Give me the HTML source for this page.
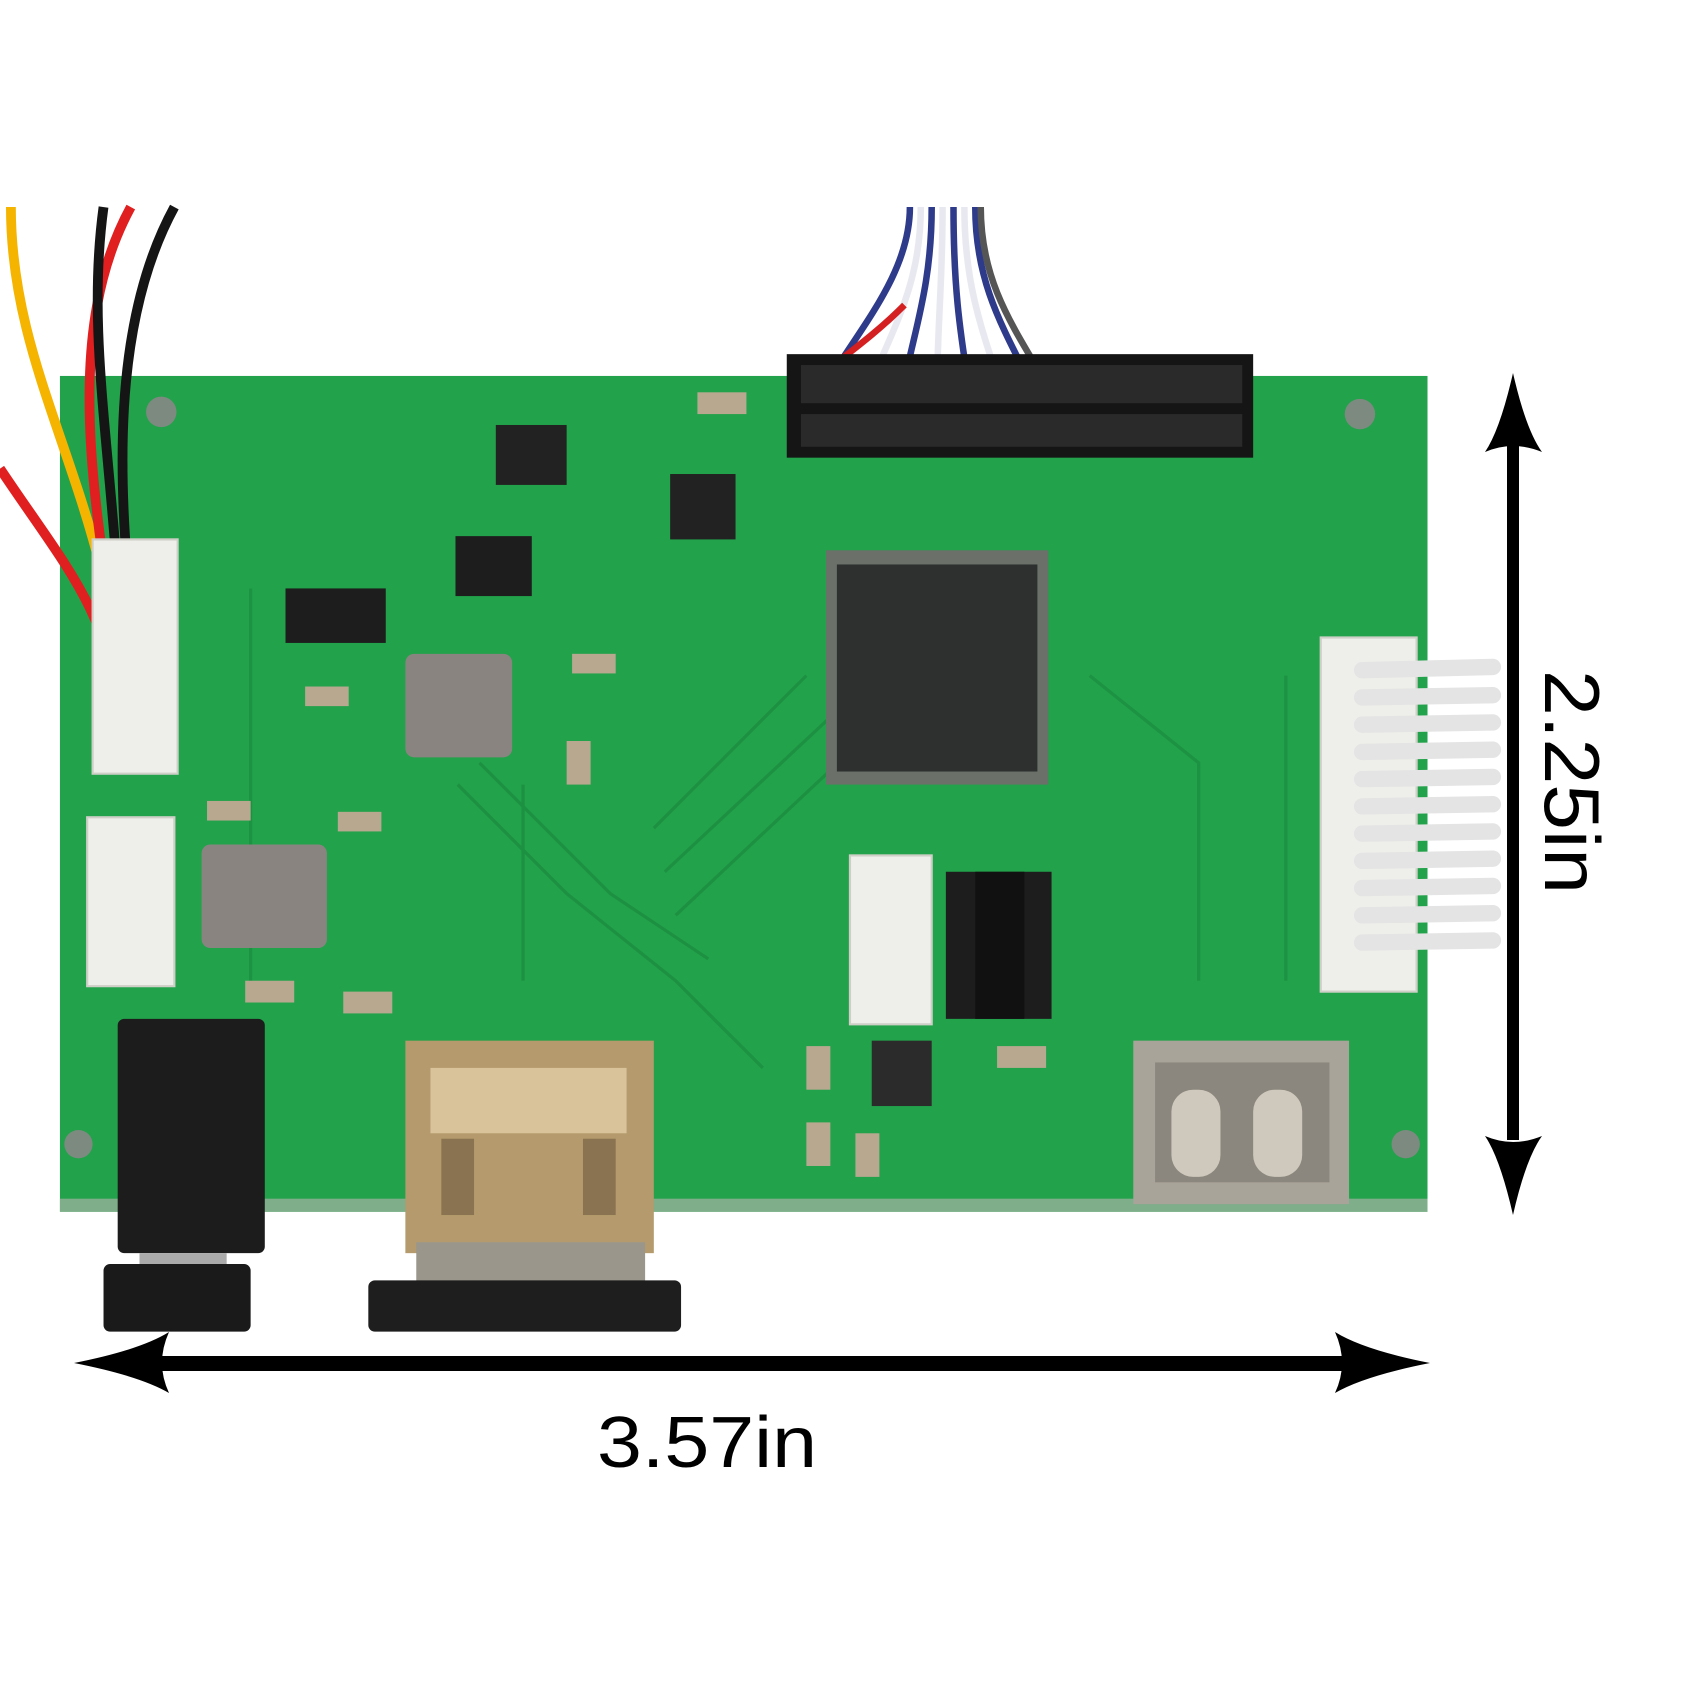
<!DOCTYPE html>
<html><head><meta charset="utf-8"><style>html,body{margin:0;padding:0;background:#fff}svg{display:block}</style></head>
<body>
<svg width="1700" height="1700" viewBox="0 0 1700 1700" xmlns="http://www.w3.org/2000/svg">
<rect width="1700" height="1700" fill="#fff"/>
<g transform="scale(1.0897)">
  <rect x="55" y="345" width="1255" height="767" fill="#22a24a"/>
  <rect x="55" y="1100" width="1255" height="12" fill="#7fae8a"/>
  <g stroke="#1c8e40" stroke-width="3" fill="none" opacity="0.8">
    <path d="M420 720 L520 820 L620 900 L700 980"/><path d="M440 700 L560 820 L650 880"/>
    <path d="M600 760 L740 620"/><path d="M610 800 L760 660"/><path d="M620 840 L780 690"/>
    <path d="M1000 620 L1100 700 L1100 900"/><path d="M1180 620 L1180 900"/>
    <path d="M230 540 L230 900"/><path d="M480 720 L480 900"/>
  </g>
  <circle cx="148" cy="378" r="14" fill="#7c8a80"/><circle cx="1248" cy="380" r="14" fill="#7c8a80"/>
  <circle cx="72" cy="1050" r="13" fill="#7c8a80"/><circle cx="1290" cy="1050" r="13" fill="#7c8a80"/>
  <g stroke-width="6" fill="none">
    <path d="M835 190 C835 250 790 300 760 350" stroke="#2e3a8a"/>
    <path d="M845 190 C845 260 820 300 800 350" stroke="#e8e8f0"/>
    <path d="M855 190 C855 260 840 300 830 350" stroke="#2e3a8a"/>
    <path d="M865 190 C865 260 860 300 860 360" stroke="#e8e8f0"/>
    <path d="M875 190 C875 260 880 300 890 360" stroke="#2e3a8a"/>
    <path d="M885 190 C885 260 900 300 920 360" stroke="#e8e8f0"/>
    <path d="M895 190 C895 260 920 300 950 360" stroke="#2e3a8a"/>
    <path d="M900 190 C900 260 930 300 965 360" stroke="#555"/>
    <path d="M830 280 C800 310 770 330 740 355" stroke="#d42020"/>
  </g>
  <rect x="722" y="325" width="428" height="95" fill="#151515"/>
  <g fill="#2a2a2a"><rect x="735" y="335" width="405" height="35"/><rect x="735" y="380" width="405" height="30"/></g>
  <g fill="none" stroke-width="9">
    <path d="M10 190 C10 350 100 450 115 660" stroke="#f5b400"/>
    <path d="M120 190 C60 300 80 450 120 660" stroke="#e02020"/>
    <path d="M0 430 C60 520 100 560 110 660" stroke="#e02020"/>
    <path d="M160 190 C100 300 110 450 120 560" stroke="#151515"/>
    <path d="M95 190 C80 300 100 400 110 560" stroke="#151515"/>
  </g>
  <rect x="85" y="495" width="78" height="215" fill="#eeeeea" stroke="#cfcfc8" stroke-width="2"/>
  <rect x="80" y="750" width="80" height="155" fill="#eeeeea" stroke="#cfcfc8" stroke-width="2"/>
  <rect x="780" y="785" width="75" height="155" fill="#eeeeea" stroke="#cfcfc8" stroke-width="2"/>
  <rect x="1212" y="585" width="88" height="325" fill="#eeeeea" stroke="#cfcfc8" stroke-width="2"/>
  <g stroke="#e4e4e4" stroke-width="15" stroke-linecap="round">
    <line x1="1250" y1="615" x2="1370" y2="612"/><line x1="1250" y1="640" x2="1370" y2="638"/>
    <line x1="1250" y1="665" x2="1370" y2="663"/><line x1="1250" y1="690" x2="1370" y2="688"/>
    <line x1="1250" y1="715" x2="1370" y2="713"/><line x1="1250" y1="740" x2="1370" y2="738"/>
    <line x1="1250" y1="765" x2="1370" y2="763"/><line x1="1250" y1="790" x2="1370" y2="788"/>
    <line x1="1250" y1="815" x2="1370" y2="813"/><line x1="1250" y1="840" x2="1370" y2="838"/>
    <line x1="1250" y1="865" x2="1370" y2="863"/>
  </g>
  <rect x="758" y="505" width="204" height="215" fill="#6b7069"/>
  <rect x="768" y="518" width="184" height="190" fill="#2d302f"/>
  <rect x="868" y="800" width="97" height="135" fill="#1d1d1d"/>
  <rect x="895" y="800" width="45" height="135" fill="#111"/>
  <rect x="418" y="492" width="70" height="55" fill="#1d1d1d"/>
  <rect x="615" y="435" width="60" height="60" fill="#222"/>
  <rect x="262" y="540" width="92" height="50" fill="#1d1d1d"/>
  <rect x="455" y="390" width="65" height="55" fill="#222"/>
  <rect x="800" y="955" width="55" height="60" fill="#2b2b2b"/>
  <rect x="372" y="600" width="98" height="95" rx="8" fill="#8a8480"/>
  <rect x="185" y="775" width="115" height="95" rx="8" fill="#8a8480"/>
  <g fill="#b8a890">
    <rect x="280" y="630" width="40" height="18"/><rect x="190" y="735" width="40" height="18"/>
    <rect x="310" y="745" width="40" height="18"/><rect x="225" y="900" width="45" height="20"/>
    <rect x="315" y="910" width="45" height="20"/><rect x="525" y="600" width="40" height="18"/>
    <rect x="640" y="360" width="45" height="20"/><rect x="915" y="960" width="45" height="20"/>
    <rect x="740" y="960" width="22" height="40"/><rect x="740" y="1030" width="22" height="40"/>
    <rect x="785" y="1040" width="22" height="40"/><rect x="520" y="680" width="22" height="40"/>
  </g>
  <rect x="108" y="935" width="135" height="215" rx="6" fill="#1c1c1c"/>
  <rect x="128" y="1150" width="80" height="18" fill="#aaa"/>
  <rect x="95" y="1160" width="135" height="62" rx="6" fill="#1a1a1a"/>
  <rect x="372" y="955" width="228" height="195" fill="#b49a6c"/>
  <rect x="395" y="980" width="180" height="60" fill="#d8c39a"/>
  <rect x="405" y="1045" width="30" height="70" fill="#8a7350"/><rect x="535" y="1045" width="30" height="70" fill="#8a7350"/>
  <rect x="382" y="1140" width="210" height="40" fill="#9a968c"/>
  <rect x="338" y="1175" width="287" height="47" rx="6" fill="#1e1e1e"/>
  <rect x="1040" y="955" width="198" height="150" fill="#a9a49a"/>
  <rect x="1060" y="975" width="160" height="110" fill="#8c877e"/>
  <rect x="1075" y="1000" width="45" height="80" rx="20" fill="#cfc9bd"/><rect x="1150" y="1000" width="45" height="80" rx="20" fill="#cfc9bd"/>
</g>
<rect x="150" y="1356" width="1200" height="15" fill="#000"/>
<path d="M74 1363 Q140 1350 169 1332 Q155 1363 169 1393 Q140 1376 74 1363 Z" fill="#000"/>
<path d="M1430 1363 Q1364 1350 1335 1332 Q1349 1363 1335 1393 Q1364 1376 1430 1363 Z" fill="#000"/>
<text x="597" y="1467" font-family="Liberation Sans, DejaVu Sans, sans-serif" font-size="72" textLength="220" lengthAdjust="spacingAndGlyphs" fill="#000">3.57in</text>
<rect x="1507" y="440" width="12" height="700" fill="#000"/>
<path d="M1513 373 Q1526 430 1542 452 Q1513 440 1485 452 Q1500 430 1513 373 Z" fill="#000"/>
<path d="M1513 1215 Q1526 1158 1542 1136 Q1513 1148 1485 1136 Q1500 1158 1513 1215 Z" fill="#000"/>
<text transform="translate(1545,670) rotate(90)" font-family="Liberation Sans, DejaVu Sans, sans-serif" font-size="78" textLength="224" lengthAdjust="spacingAndGlyphs" fill="#000">2.25in</text>
</svg>
</body></html>
